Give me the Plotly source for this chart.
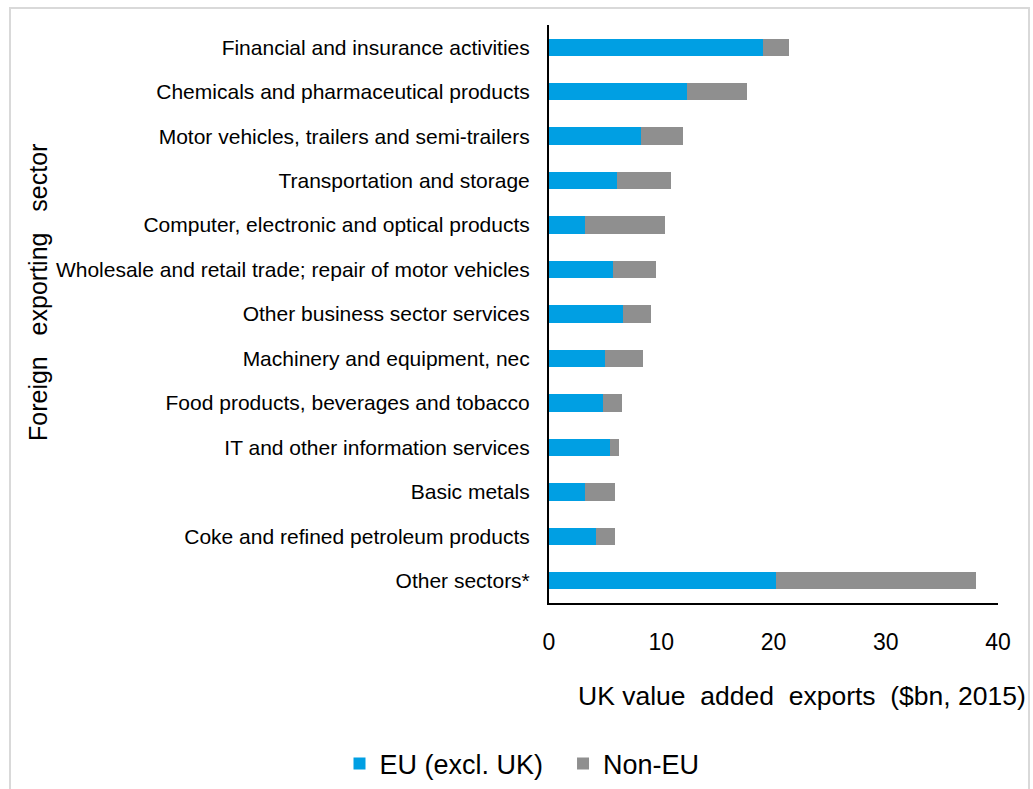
import plotly.graph_objects as go

sectors = [
    "Financial and insurance activities",
    "Chemicals and pharmaceutical products",
    "Motor vehicles, trailers and semi-trailers",
    "Transportation and storage",
    "Computer, electronic and optical products",
    "Wholesale and retail trade; repair of motor vehicles",
    "Other business sector services",
    "Machinery and equipment, nec",
    "Food products, beverages and tobacco",
    "IT and other information services",
    "Basic metals",
    "Coke and refined petroleum products",
    "Other sectors*",
]
eu_values = [19.1, 12.3, 8.2, 6.1, 3.2, 5.7, 6.6, 5.0, 4.8, 5.4, 3.2, 4.2, 20.2]
non_eu_values = [2.3, 5.3, 3.7, 4.8, 7.1, 3.8, 2.5, 3.35, 1.7, 0.8, 2.7, 1.7, 17.8]
x_ticks = [0, 10, 20, 30, 40]

# figure size and plot-area margins (px)
W, H = 1033, 789
L, R, T, B = 549, 35, 25, 186
pw, ph = W - L - R, H - T - B


def px_x(x):
    return (x - L) / pw


def px_y(y):
    return (H - B - y) / ph


FONT = "Liberation Sans, Arial, sans-serif"
NB = "\u00a0"

fig = go.Figure()
fig.add_trace(go.Bar(
    y=sectors, x=eu_values, orientation="h", name="EU (excl. UK)" + NB * 2,
    marker=dict(color="#009FE3", line=dict(width=0)),
))
fig.add_trace(go.Bar(
    y=sectors, x=non_eu_values, orientation="h", name="Non-EU",
    marker=dict(color="#8F8F8F", line=dict(width=0)),
))

fig.update_layout(
    width=W, height=H,
    margin=dict(l=L, r=R, t=T, b=B, pad=0, autoexpand=False),
    barmode="stack", bargap=0.61,
    plot_bgcolor="white", paper_bgcolor="white",
    font=dict(family=FONT, color="#000000"),
    showlegend=True,
    legend=dict(
        orientation="h", x=px_x(522), y=px_y(764),
        xanchor="center", yanchor="middle",
        font=dict(family=FONT, size=27),
        traceorder="normal",
    ),
    xaxis=dict(
        range=[0, 40], tickvals=x_ticks, ticktext=[str(v) for v in x_ticks],
        showgrid=False, zeroline=False, showline=True, linecolor="#000000",
        linewidth=2, ticks="", tickfont=dict(size=23), ticklabelstandoff=17,
        fixedrange=True,
    ),
    yaxis=dict(
        categoryorder="array", categoryarray=sectors, autorange="reversed",
        showgrid=False, zeroline=False, showline=True, linecolor="#000000",
        linewidth=2, ticks="", tickfont=dict(size=21), ticklabelstandoff=13,
    ),
)

fig.add_annotation(
    text=f"UK{NB}value{NB*2}added{NB*2}exports{NB*2}($bn,{NB}2015)",
    xref="paper", yref="paper",
    x=px_x(802), y=px_y(696), showarrow=False,
    xanchor="center", yanchor="middle", font=dict(size=26.5),
)
fig.add_annotation(
    text=f"Foreign{NB*3}exporting{NB*3}sector", xref="paper", yref="paper",
    x=px_x(38), y=px_y(293), showarrow=False, textangle=-90,
    xanchor="center", yanchor="middle", font=dict(size=25),
)

# light frame around the whole chart
fig.add_shape(
    type="rect", xref="paper", yref="paper",
    x0=px_x(10), x1=px_x(1029), y0=px_y(8), y1=px_y(800),
    line=dict(color="#D9D9D9", width=2), fillcolor="rgba(0,0,0,0)", layer="below",
)

fig.write_html("out.html")
